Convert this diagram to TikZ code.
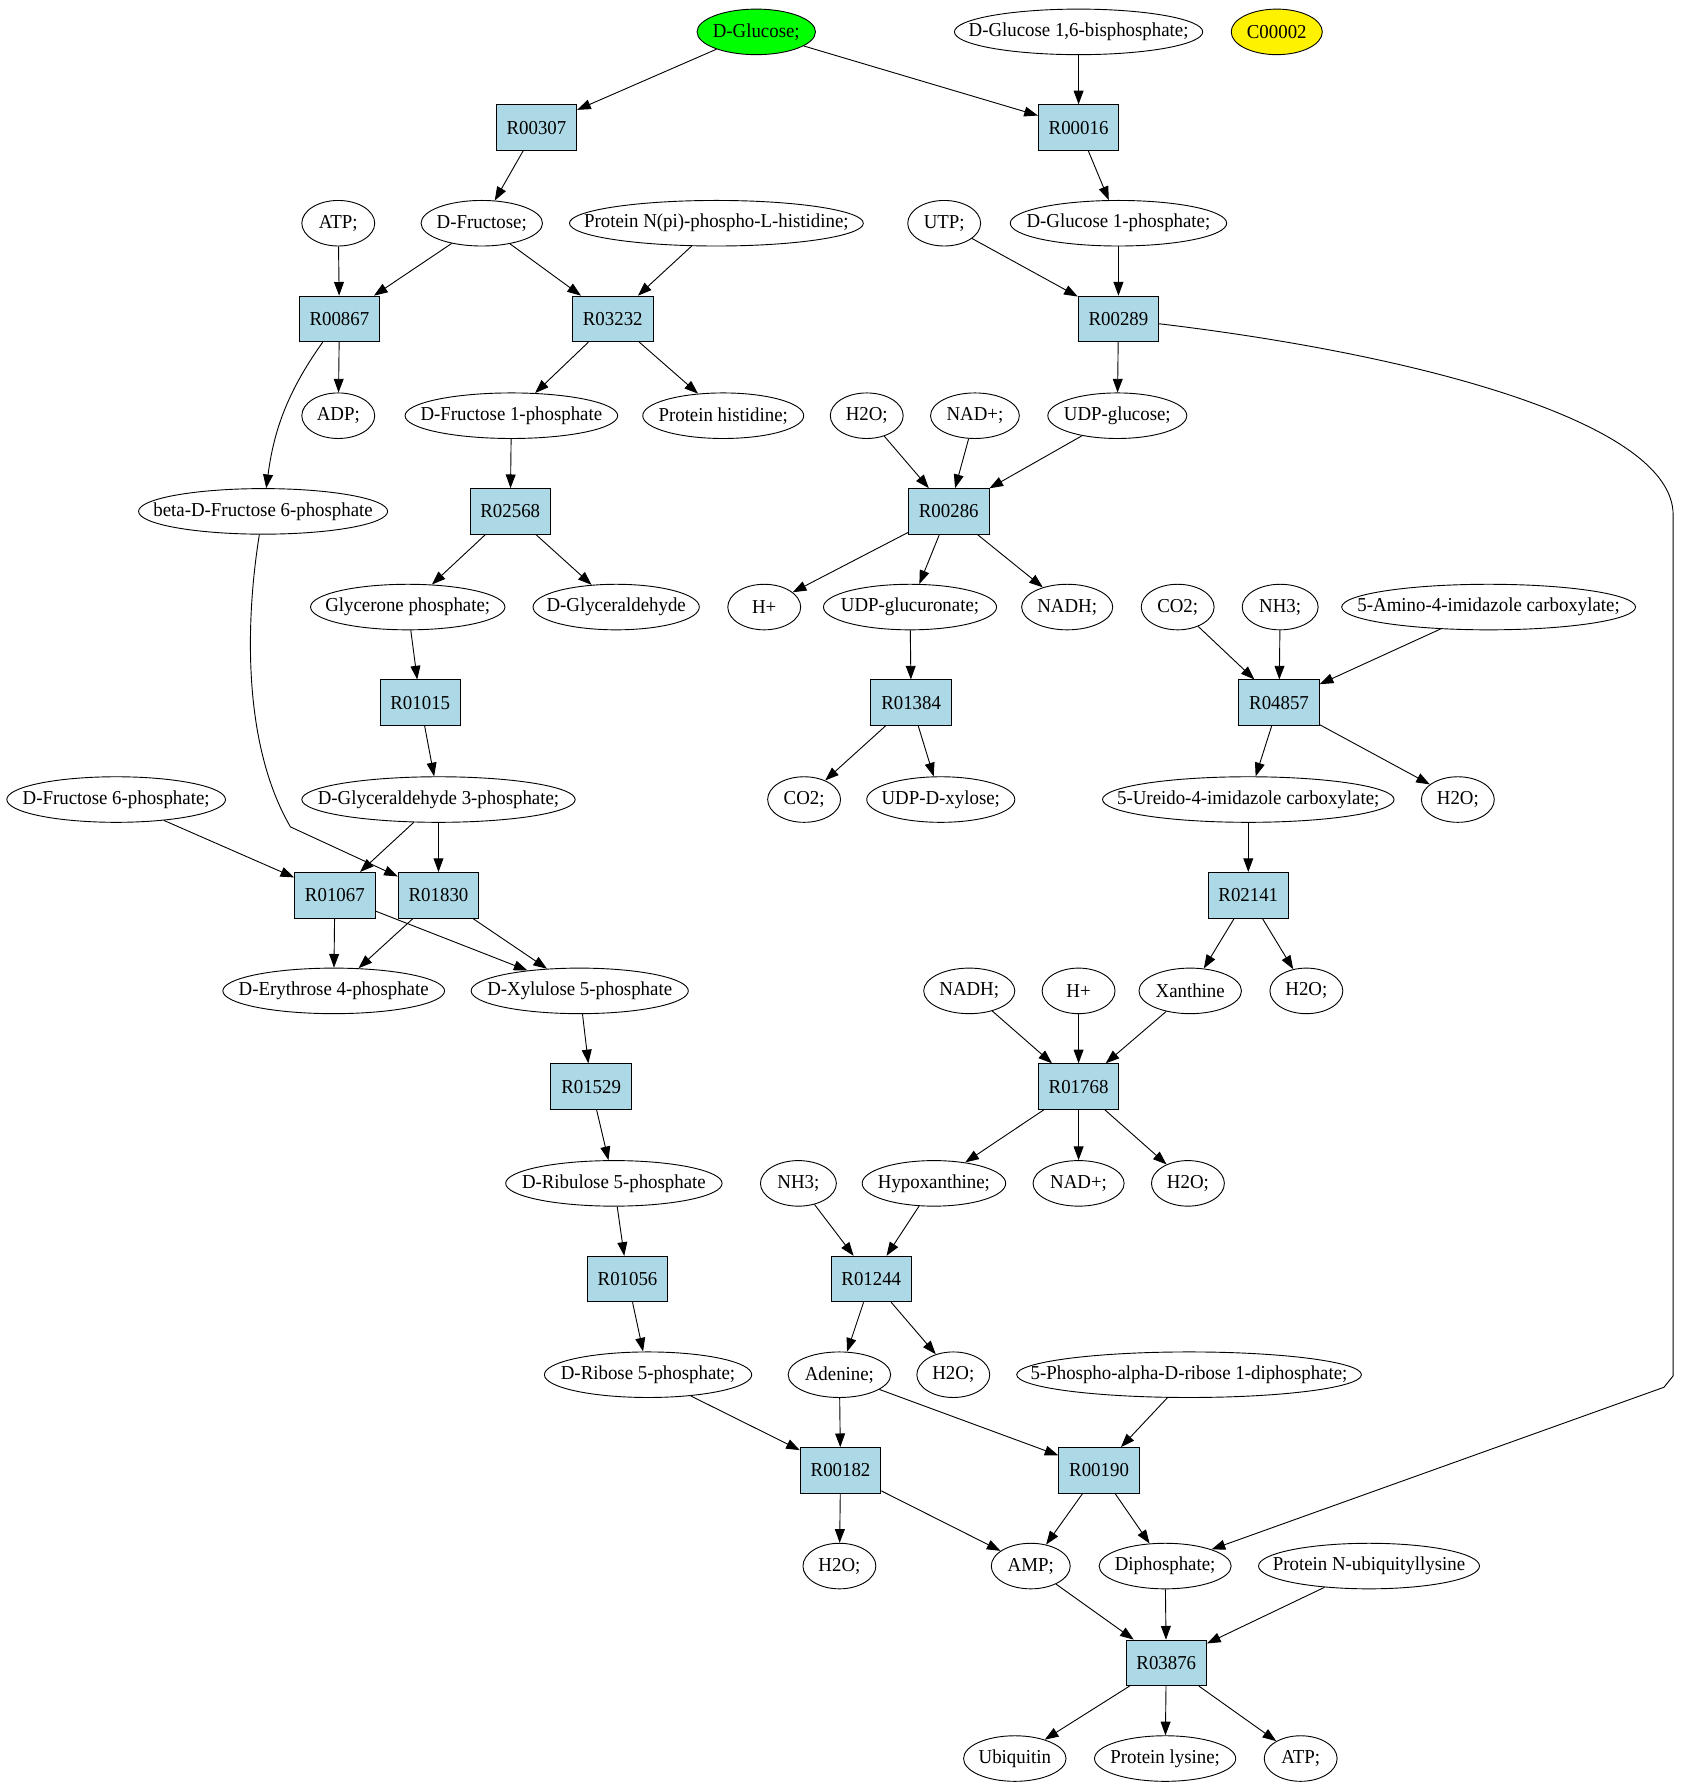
\documentclass[tikz,border=0pt]{standalone}
\usepackage{fontspec}
\setmainfont[FakeStretch=0.955]{Liberation Serif}
\usepackage{tikz}
\usetikzlibrary{arrows.meta, shapes.geometric}
\definecolor{rxnblue}{HTML}{ADD8E6}
\tikzset{
  met/.style={draw, ellipse, minimum width=48pt, minimum height=30pt, inner sep=0pt,
    font=\fontsize{13pt}{15pt}\selectfont,
    execute at begin node={\hbox to 0pt\bgroup\hss}, execute at end node={\hss\egroup}},
  rxn/.style={draw, rectangle, fill=rxnblue, minimum width=53pt, minimum height=30pt,
    inner sep=0pt, font=\fontsize{13pt}{15pt}\selectfont}
}

\begin{document}
\begin{tikzpicture}[x=0.75pt, y=-0.75pt, line width=0.6pt, >={Triangle[length=9pt,width=6.5pt]}]
                        \useasboundingbox (0,-2) rectangle (1486,1567);

                        \node[met, fill=green, minimum width=78pt] (glc) at (664,26) {D-Glucose;};
                        \node[met, minimum width=163.5pt] (g16bp) at (947,26) {D-Glucose 1,6-bisphosphate;};
                        \node[met, fill=yellow, minimum width=60pt] (c2) at (1121,26) {C00002};

                        \node[rxn] (r00307) at (471,110) {R00307};
                        \node[rxn] (r00016) at (947,110) {R00016};

                        \node[met] (atpa) at (297,194) {ATP;};
                        \node[met, minimum width=80pt] (fru) at (423,194) {D-Fructose;};
                        \node[met, minimum width=193.5pt] (pnph) at (629,194) {Protein N(pi)-phospho-L-histidine;};
                        \node[met] (utp) at (829,194) {UTP;};
                        \node[met, minimum width=142.5pt] (g1p) at (982,194) {D-Glucose 1-phosphate;};

                        \node[rxn] (r00867) at (298,278) {R00867};
                        \node[rxn] (r03232) at (538,278) {R03232};
                        \node[rxn] (r00289) at (982,278) {R00289};

                        \node[met] (adp) at (297,363) {ADP;};
                        \node[met, minimum width=140pt] (f1p) at (449,363) {D-Fructose 1-phosphate};
                        \node[met, minimum width=106pt] (phis) at (635,363) {Protein histidine;};
                        \node[met] (wa) at (761,363) {H2O;};
                        \node[met, minimum width=58.5pt] (nada) at (856,363) {NAD+;};
                        \node[met, minimum width=91.5pt] (udpg) at (981,363) {UDP-glucose;};

                        \node[met, minimum width=164pt] (bf6p) at (231,447) {beta-D-Fructose 6-phosphate};
                        \node[rxn] (r02568) at (448,447) {R02568};
                        \node[rxn] (r00286) at (833,447) {R00286};

                        \node[met, minimum width=128pt] (gnp) at (358,531) {Glycerone phosphate;};
                        \node[met, minimum width=109.5pt] (gald) at (541,531) {D-Glyceraldehyde};
                        \node[met] (hpa) at (671,531) {H+};
                        \node[met, minimum width=114pt] (udpga) at (799,531) {UDP-glucuronate;};
                        \node[met, minimum width=60pt] (nadha) at (937,531) {NADH;};
                        \node[met] (co2a) at (1034,531) {CO2;};
                        \node[met, minimum width=50pt] (nh3a) at (1124,531) {NH3;};
                        \node[met, minimum width=193.5pt] (aic) at (1307,531) {5-Amino-4-imidazole carboxylate;};

                        \node[rxn] (r01015) at (369,615) {R01015};
                        \node[rxn] (r01384) at (800,615) {R01384};
                        \node[rxn] (r04857) at (1123,615) {R04857};

                        \node[met, minimum width=144pt] (f6p) at (102,700) {D-Fructose 6-phosphate;};
                        \node[met, minimum width=180pt] (g3p) at (385,700) {D-Glyceraldehyde 3-phosphate;};
                        \node[met] (co2b) at (706,700) {CO2;};
                        \node[met, minimum width=97.5pt] (udpx) at (826,700) {UDP-D-xylose;};
                        \node[met, minimum width=192pt] (uic) at (1096,700) {5-Ureido-4-imidazole carboxylate;};
                        \node[met] (wb) at (1280,700) {H2O;};

                        \node[rxn] (r01067) at (294,784) {R01067};
                        \node[rxn] (r01830) at (385,784) {R01830};
                        \node[rxn] (r02141) at (1096,784) {R02141};

                        \node[met, minimum width=146pt] (e4p) at (293,868) {D-Erythrose 4-phosphate};
                        \node[met, minimum width=143pt] (xu5p) at (509,868) {D-Xylulose 5-phosphate};
                        \node[met, minimum width=60pt] (nadhb) at (851,868) {NADH;};
                        \node[met] (hpb) at (947,868) {H+};
                        \node[met, minimum width=67.5pt] (xan) at (1045,868) {Xanthine};
                        \node[met] (wc) at (1147,868) {H2O;};

                        \node[rxn] (r01529) at (519,952) {R01529};
                        \node[rxn] (r01768) at (947,952) {R01768};

                        \node[met, minimum width=142.5pt] (ru5p) at (539,1037) {D-Ribulose 5-phosphate};
                        \node[met, minimum width=50pt] (nh3b) at (701,1037) {NH3;};
                        \node[met, minimum width=94.5pt] (hyp) at (820,1037) {Hypoxanthine;};
                        \node[met, minimum width=60pt] (nadb) at (947,1037) {NAD+;};
                        \node[met] (wd) at (1043,1037) {H2O;};

                        \node[rxn] (r01056) at (551,1121) {R01056};
                        \node[rxn] (r01244) at (765,1121) {R01244};

                        \node[met, minimum width=136.5pt] (r5p) at (569,1205) {D-Ribose 5-phosphate;};
                        \node[met, minimum width=67.5pt] (ade) at (737,1205) {Adenine;};
                        \node[met] (we) at (837,1205) {H2O;};
                        \node[met, minimum width=227pt] (prpp) at (1044,1205) {5-Phospho-alpha-D-ribose 1-diphosphate;};

                        \node[rxn] (r00182) at (738,1289) {R00182};
                        \node[rxn] (r00190) at (965,1289) {R00190};

                        \node[met] (wf) at (737,1373) {H2O;};
                        \node[met, minimum width=52pt] (amp) at (905,1373) {AMP;};
                        \node[met, minimum width=87pt] (diph) at (1023,1373) {Diphosphate;};
                        \node[met, minimum width=145.5pt] (pnub) at (1202,1373) {Protein N-ubiquityllysine};

                        \node[rxn] (r03876) at (1024,1458) {R03876};

                        \node[met, minimum width=67.5pt] (ubq) at (891,1542) {Ubiquitin};
                        \node[met, minimum width=93pt] (plys) at (1023,1542) {Protein lysine;};
                        \node[met] (atpb) at (1142,1542) {ATP;};

                        \draw
                        (glc) edge[->] (r00307)
                        (glc) edge[->] (r00016)
                        (g16bp) edge[->] (r00016)
                        (r00307) edge[->] (fru)
                        (r00016) edge[->] (g1p)
                        (atpa) edge[->] (r00867)
                        (fru) edge[->] (r00867)
                        (fru) edge[->] (r03232)
                        (pnph) edge[->] (r03232)
                        (utp) edge[->] (r00289)
                        (g1p) edge[->] (r00289)
                        (r00867) edge[->] (adp)
                        (r03232) edge[->] (f1p)
                        (r03232) edge[->] (phis)
                        (r00289) edge[->] (udpg)
                        (wa) edge[->] (r00286)
                        (nada) edge[->] (r00286)
                        (udpg) edge[->] (r00286)
                        (f1p) edge[->] (r02568)
                        (r02568) edge[->] (gnp)
                        (r02568) edge[->] (gald)
                        (r00286) edge[->] (hpa)
                        (r00286) edge[->] (udpga)
                        (r00286) edge[->] (nadha)
                        (gnp) edge[->] (r01015)
                        (udpga) edge[->] (r01384)
                        (co2a) edge[->] (r04857)
                        (nh3a) edge[->] (r04857)
                        (aic) edge[->] (r04857)
                        (r01015) edge[->] (g3p)
                        (r01384) edge[->] (co2b)
                        (r01384) edge[->] (udpx)
                        (r04857) edge[->] (uic)
                        (r04857) edge[->] (wb)
                        (f6p) edge[->] (r01067)
                        (g3p) edge[->] (r01067)
                        (g3p) edge[->] (r01830)
                        (uic) edge[->] (r02141)
                        (r01067) edge[->] (e4p)
                        (r01067) edge[->] (xu5p)
                        (r01830) edge[->] (e4p)
                        (r01830) edge[->] (xu5p)
                        (r02141) edge[->] (xan)
                        (r02141) edge[->] (wc)
                        (xu5p) edge[->] (r01529)
                        (nadhb) edge[->] (r01768)
                        (hpb) edge[->] (r01768)
                        (xan) edge[->] (r01768)
                        (r01529) edge[->] (ru5p)
                        (r01768) edge[->] (hyp)
                        (r01768) edge[->] (nadb)
                        (r01768) edge[->] (wd)
                        (ru5p) edge[->] (r01056)
                        (nh3b) edge[->] (r01244)
                        (hyp) edge[->] (r01244)
                        (r01056) edge[->] (r5p)
                        (r01244) edge[->] (ade)
                        (r01244) edge[->] (we)
                        (r5p) edge[->] (r00182)
                        (ade) edge[->] (r00182)
                        (ade) edge[->] (r00190)
                        (prpp) edge[->] (r00190)
                        (r00182) edge[->] (wf)
                        (r00182) edge[->] (amp)
                        (r00190) edge[->] (amp)
                        (r00190) edge[->] (diph)
                        (amp) edge[->] (r03876)
                        (diph) edge[->] (r03876)
                        (pnub) edge[->] (r03876)
                        (r03876) edge[->] (ubq)
                        (r03876) edge[->] (plys)
                        (r03876) edge[->] (atpb);

                        \draw[->] (r00867) .. controls (250,345) and (240,380) .. (bf6p);
                        \draw[->] (bf6p) .. controls (216,540) and (212,650) .. (255,724) -- (r01830);
                        \draw[->] (r00289) .. controls (1250,310) and (1469,370) .. (1469,450)
                                  -- (1469,1206) -- (1461,1216) -- (diph);
                    \end{tikzpicture}
\end{document}
